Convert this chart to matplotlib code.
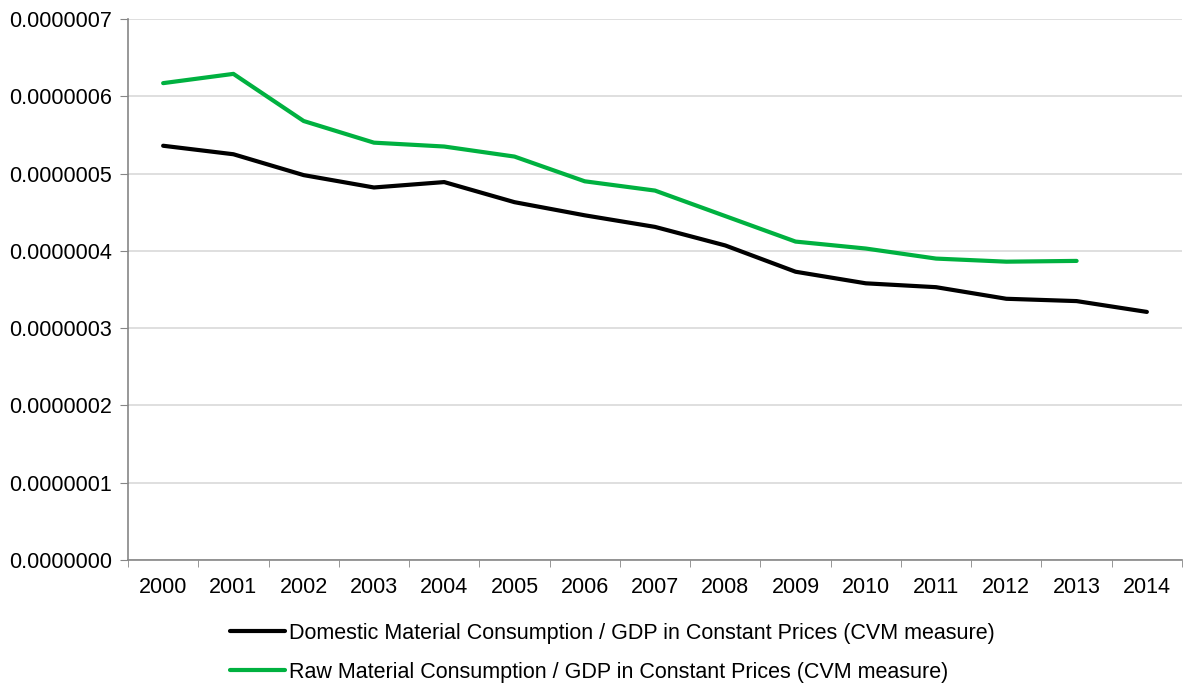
import matplotlib.pyplot as plt
from matplotlib.ticker import FormatStrFormatter, MultipleLocator
import numpy as np

plt.rcParams['font.family'] = ['Liberation Sans', 'DejaVu Sans']

years = ['2000', '2001', '2002', '2003', '2004', '2005', '2006', '2007',
         '2008', '2009', '2010', '2011', '2012', '2013', '2014']
dmc_gdp = [5.36e-7, 5.25e-7, 4.98e-7, 4.82e-7, 4.89e-7, 4.63e-7, 4.46e-7, 4.31e-7,
           4.07e-7, 3.73e-7, 3.58e-7, 3.53e-7, 3.38e-7, 3.35e-7, 3.21e-7]
rmc_gdp = [6.17e-7, 6.29e-7, 5.68e-7, 5.40e-7, 5.35e-7, 5.22e-7, 4.90e-7, 4.78e-7,
           4.45e-7, 4.12e-7, 4.03e-7, 3.90e-7, 3.86e-7, 3.87e-7]
labels = ['Domestic Material Consumption / GDP in Constant Prices (CVM measure)',
          'Raw Material Consumption / GDP in Constant Prices (CVM measure)']

fs = 15.5
fig = plt.figure(figsize=(11.9, 6.84), dpi=100)
ax = fig.add_axes([128/1190, 1-560/684, (1182-128)/1190, (560-19)/684])

x = np.arange(len(years))
ax.plot(x, dmc_gdp, color='black', lw=3.0, solid_capstyle='round', solid_joinstyle='round', label=labels[0])
ax.plot(x[:len(rmc_gdp)], rmc_gdp, color='#00b140', lw=3.0, solid_capstyle='round', solid_joinstyle='round', label=labels[1])

ax.set_xlim(-0.5, len(years)-0.5)
ax.set_ylim(0, 7e-7)
ax.yaxis.set_major_locator(MultipleLocator(1e-7))
ax.yaxis.set_major_formatter(FormatStrFormatter('%.7f'))
ax.set_xticks(x)
ax.set_xticklabels(years)
ax.set_xticks(np.arange(-0.5, len(years), 1), minor=True)
ax.tick_params(axis='x', which='major', length=0, pad=12, labelsize=fs)
ax.tick_params(axis='x', which='minor', length=5, color='#868686', direction='out')
ax.tick_params(axis='y', length=5.5, color='#868686', labelsize=fs, pad=6)
ax.grid(axis='y', color='#d9d9d9', lw=1.2)
ax.set_axisbelow(True)
for s in ['top', 'right']:
    ax.spines[s].set_visible(False)
for s in ['left', 'bottom']:
    ax.spines[s].set_color('#868686')
    ax.spines[s].set_linewidth(1.2)

fig.legend(loc='upper left', bbox_to_anchor=(221/1190, 1-614/684), frameon=False,
           borderaxespad=0, fontsize=fs, handlelength=2.55, handletextpad=0.23,
           labelspacing=0.85)

fig.savefig('out.png', dpi=100)
